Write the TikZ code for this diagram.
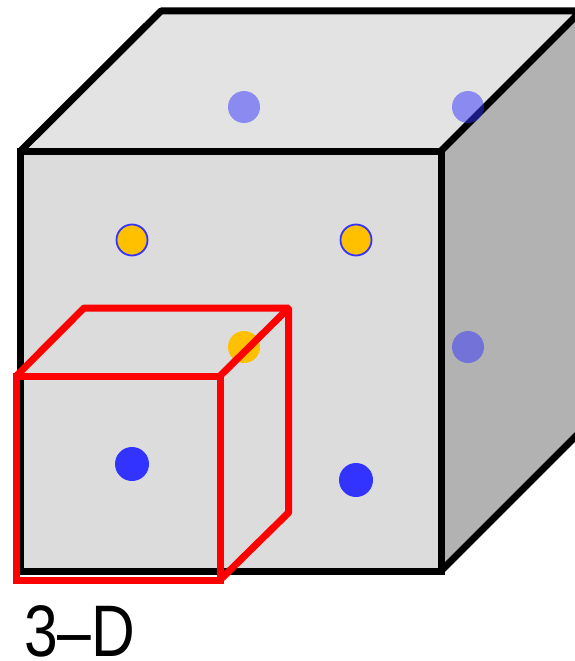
\documentclass[tikz,border=0pt]{standalone}
\usepackage{fontspec}
\setmainfont{Liberation Sans}
\definecolor{dotblue}{HTML}{3333FF}
\definecolor{dotorange}{HTML}{FFC000}
\definecolor{frontgray}{HTML}{DCDCDC}
\definecolor{topgray}{HTML}{E3E3E3}
\definecolor{sidegray}{HTML}{B2B2B2}
\definecolor{cubered}{HTML}{FF0000}
\tikzset{
  blackedge/.style={draw=black,line width=7pt,line join=miter},
  blackslant/.style={draw=black,line width=7pt,line join=bevel},
  rededge/.style={draw=cubered,line width=7pt,line join=miter},
  redslant/.style={draw=cubered,line width=7pt,line join=bevel},
  atom/.style={circle,inner sep=0pt,outer sep=0pt,minimum size=32pt},
  bluedot/.style={atom,fill=dotblue,minimum size=34pt},
  fadeddot/.style={atom,fill=dotblue,fill opacity=0.5},
  ringdot/.style={atom,fill=dotorange,draw=dotblue,line width=1.8pt,minimum size=31pt},
  plaindot/.style={atom,fill=dotorange},
}
\begin{document}
\begin{tikzpicture}[x=1pt,y=-1pt]
\useasboundingbox (0,0) rectangle (575,661);
\begin{scope}
\clip (0,0) rectangle (575,661);
\coordinate (fa) at (20.5,151);
\coordinate (fb) at (441,151);
\coordinate (fc) at (441,571);
\coordinate (fd) at (20.5,571);
\coordinate (ba) at (161,11);
\coordinate (bb) at (581,11);
\coordinate (bc) at (581,431);
\fill[topgray] (fa) -- (ba) -- (bb) -- (fb) -- cycle;
\fill[sidegray] (fb) -- (bb) -- (bc) -- (fc) -- cycle;
\fill[frontgray] (fa) -- (fb) -- (fc) -- (fd) -- cycle;
\draw[blackslant] (fa) -- (ba) -- (bb) -- (fb);
\draw[blackslant] (fc) -- (bc) -- (bb);
\draw[blackedge] (fa) -- (fb) -- (fc) -- (fd) -- cycle;
\end{scope}
\node[fadeddot] (t1) at (244,107) {};
\node[fadeddot] (t2) at (468,107) {};
\node[fadeddot] (s1) at (468,347) {};
\node[ringdot] (m1) at (132,240) {};
\node[ringdot] (m2) at (356,240) {};
\node[plaindot] (m3) at (244,347) {};
\node[bluedot] (b1) at (132,464) {};
\node[bluedot] (b2) at (356,480) {};
\coordinate (ra) at (16.3,376);
\coordinate (rb) at (220,376);
\coordinate (rc) at (220,580);
\coordinate (rd) at (16.3,580);
\coordinate (re) at (84,308);
\coordinate (rf) at (288.7,308);
\coordinate (rg) at (288.7,512.5);
\draw[redslant] (ra) -- (re) -- (rf) -- (rg) -- (rc);
\draw[redslant] (rf) -- (rb);
\draw[rededge] (ra) -- (rb) -- (rc) -- (rd) -- cycle;
\node[anchor=base west,inner sep=0pt,xscale=0.83,font=\fontsize{73}{73}\selectfont] (lab) at (24,656.5) {3–D};
\end{tikzpicture}
\end{document}
